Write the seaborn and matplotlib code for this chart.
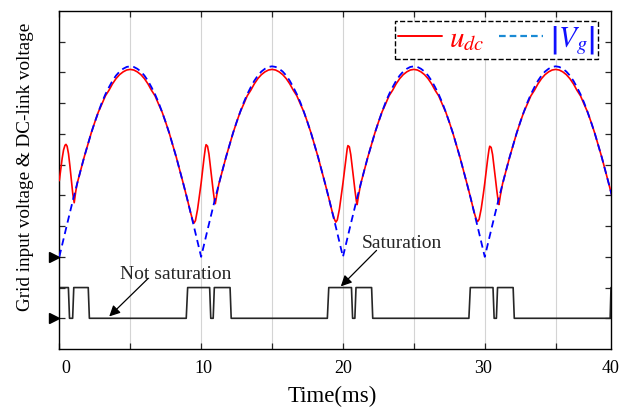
import numpy as np
import pandas as pd
import matplotlib
matplotlib.use("Agg")
import matplotlib.pyplot as plt
import matplotlib.transforms as mtransforms
from matplotlib.lines import Line2D
import seaborn as sns

# ---------------- data ----------------
# |V_g| sampled every 0.25 ms (ms, arbitrary voltage units)
t_vg = np.arange(0.0, 40.0, 0.25)
vg_abs = [
    2.00, 2.49, 2.97, 3.45, 3.92, 4.37, 4.81, 5.24, 5.64, 6.03, 6.38, 6.71, 7.02, 7.29, 7.52, 7.73, 7.90, 8.03, 8.12, 8.18,
    8.20, 8.18, 8.12, 8.03, 7.90, 7.73, 7.52, 7.29, 7.02, 6.71, 6.38, 6.03, 5.64, 5.24, 4.81, 4.37, 3.92, 3.45, 2.97, 2.49,
    2.00, 2.49, 2.97, 3.45, 3.92, 4.37, 4.81, 5.24, 5.64, 6.03, 6.38, 6.71, 7.02, 7.29, 7.52, 7.73, 7.90, 8.03, 8.12, 8.18,
    8.20, 8.18, 8.12, 8.03, 7.90, 7.73, 7.52, 7.29, 7.02, 6.71, 6.38, 6.03, 5.64, 5.24, 4.81, 4.37, 3.92, 3.45, 2.97, 2.49,
    2.00, 2.49, 2.97, 3.45, 3.92, 4.37, 4.81, 5.24, 5.64, 6.03, 6.38, 6.71, 7.02, 7.29, 7.52, 7.73, 7.90, 8.03, 8.12, 8.18,
    8.20, 8.18, 8.12, 8.03, 7.90, 7.73, 7.52, 7.29, 7.02, 6.71, 6.38, 6.03, 5.64, 5.24, 4.81, 4.37, 3.92, 3.45, 2.97, 2.49,
    2.00, 2.49, 2.97, 3.45, 3.92, 4.37, 4.81, 5.24, 5.64, 6.03, 6.38, 6.71, 7.02, 7.29, 7.52, 7.73, 7.90, 8.03, 8.12, 8.18,
    8.20, 8.18, 8.12, 8.03, 7.90, 7.73, 7.52, 7.29, 7.02, 6.71, 6.38, 6.03, 5.64, 5.24, 4.81, 4.37, 3.92, 3.45, 2.97, 2.49,
]

# u_dc
t_udc = [
    0.0, 0.1, 0.2, 0.3, 0.4, 0.47, 0.55, 0.65, 0.75, 0.85, 0.95, 1.05, 1.15, 1.25,
    1.5, 1.75, 2.0, 2.25, 2.5, 2.75, 3.0, 3.25, 3.5, 3.75, 4.0, 4.25, 4.5, 4.75, 5.0, 5.25,
    5.5, 5.75, 6.0, 6.25, 6.5, 6.75, 7.0, 7.25, 7.5, 7.75, 8.0, 8.25, 8.5, 8.75, 9.0,
    9.25, 9.4, 9.5, 9.6, 9.75, 9.9,
    10.0, 10.1, 10.2, 10.3, 10.35, 10.45, 10.55, 10.65, 10.75, 10.85, 10.95, 11.0, 11.1, 11.25,
    11.5, 11.75, 12.0, 12.25, 12.5, 12.75, 13.0, 13.25, 13.5, 13.75, 14.0, 14.25, 14.5, 14.75, 15.0, 15.25,
    15.5, 15.75, 16.0, 16.25, 16.5, 16.75, 17.0, 17.25, 17.5, 17.75, 18.0, 18.25, 18.5, 18.75, 19.0,
    19.25, 19.4, 19.5, 19.6, 19.75, 19.9,
    20.0, 20.1, 20.2, 20.3, 20.35, 20.45, 20.55, 20.65, 20.75, 20.85, 20.95, 21.0, 21.1, 21.25,
    21.5, 21.75, 22.0, 22.25, 22.5, 22.75, 23.0, 23.25, 23.5, 23.75, 24.0, 24.25, 24.5, 24.75, 25.0, 25.25,
    25.5, 25.75, 26.0, 26.25, 26.5, 26.75, 27.0, 27.25, 27.5, 27.75, 28.0, 28.25, 28.5, 28.75, 29.0,
    29.25, 29.4, 29.5, 29.6, 29.75, 29.9,
    30.0, 30.1, 30.2, 30.3, 30.35, 30.45, 30.55, 30.65, 30.75, 30.85, 30.95, 31.0, 31.1, 31.25,
    31.5, 31.75, 32.0, 32.25, 32.5, 32.75, 33.0, 33.25, 33.5, 33.75, 34.0, 34.25, 34.5, 34.75, 35.0, 35.25,
    35.5, 35.75, 36.0, 36.25, 36.5, 36.75, 37.0, 37.25, 37.5, 37.75, 38.0, 38.25, 38.5, 38.75, 39.0,
]
u_dc = [
    4.48, 4.85, 5.20, 5.48, 5.63, 5.66, 5.60, 5.35, 4.95, 4.50, 4.05, 3.76, 4.10, 4.37,
    4.81, 5.24, 5.64, 6.03, 6.38, 6.71, 6.97, 7.24, 7.42, 7.63, 7.80, 7.93, 8.02, 8.08, 8.10, 8.08,
    8.02, 7.93, 7.80, 7.63, 7.42, 7.24, 6.97, 6.71, 6.38, 6.03, 5.64, 5.24, 4.81, 4.37, 3.92,
    3.45, 3.20, 3.10, 3.18, 3.55, 4.05,
    4.40, 4.80, 5.20, 5.55, 5.65, 5.60, 5.35, 4.95, 4.55, 4.15, 3.80, 3.73, 4.00, 4.37,
    4.81, 5.24, 5.64, 6.03, 6.38, 6.71, 6.97, 7.24, 7.42, 7.63, 7.80, 7.93, 8.02, 8.08, 8.10, 8.08,
    8.02, 7.93, 7.80, 7.63, 7.42, 7.24, 6.97, 6.71, 6.38, 6.03, 5.64, 5.24, 4.81, 4.37, 3.92,
    3.45, 3.22, 3.13, 3.20, 3.55, 4.05,
    4.40, 4.78, 5.17, 5.52, 5.62, 5.58, 5.33, 4.95, 4.55, 4.15, 3.80, 3.70, 4.00, 4.37,
    4.81, 5.24, 5.64, 6.03, 6.38, 6.71, 6.97, 7.24, 7.42, 7.63, 7.80, 7.93, 8.02, 8.08, 8.10, 8.08,
    8.02, 7.93, 7.80, 7.63, 7.42, 7.24, 6.97, 6.71, 6.38, 6.03, 5.64, 5.24, 4.81, 4.37, 3.92,
    3.45, 3.22, 3.15, 3.22, 3.57, 4.05,
    4.40, 4.78, 5.17, 5.50, 5.60, 5.56, 5.33, 4.95, 4.55, 4.15, 3.80, 3.70, 4.00, 4.37,
    4.81, 5.24, 5.64, 6.03, 6.38, 6.71, 6.97, 7.24, 7.42, 7.63, 7.80, 7.93, 8.02, 8.08, 8.10, 8.08,
    8.02, 7.93, 7.80, 7.63, 7.42, 7.24, 6.97, 6.71, 6.38, 6.03, 5.64, 5.24, 4.81, 4.37, 3.92,
]

# saturation flag (0 = not saturated, 1 = saturated)
t_sat = [0.0, 0.64, 0.72, 0.94, 1.02, 2.04, 2.12,
         8.95, 9.05, 10.60, 10.68, 10.85, 10.93, 12.04, 12.12,
         18.90, 19.00, 20.60, 20.68, 20.84, 20.92, 22.02, 22.10,
         28.88, 28.98, 30.58, 30.66, 30.82, 30.90, 32.00, 32.08,
         38.84, 38.90]
sat = [1, 1, 0, 0, 1, 1, 0,
       0, 1, 1, 0, 0, 1, 1, 0,
       0, 1, 1, 0, 0, 1, 1, 0,
       0, 1, 1, 0, 0, 1, 1, 0,
       0, 1]

x_tick_labels = ["0", "10", "20", "30", "40"]
x_label_pos = [0.47, 10.15, 20.0, 29.85, 38.9]
marker_levels = [0, 2]

# ---------------- styling ----------------
sns.set_theme(style="ticks")
plt.rcParams["font.family"] = ["Liberation Serif", "DejaVu Serif"]
plt.rcParams["mathtext.fontset"] = "stix"

fig = plt.figure(figsize=(6.35, 4.10), dpi=100)
ax = fig.add_axes([0.0934, 0.1463, 0.8688, 0.8244])

df_vg = pd.DataFrame({"t": t_vg, "v": vg_abs})
df_u = pd.DataFrame({"t": t_udc, "v": u_dc})
df_s = pd.DataFrame({"t": t_sat, "v": sat})

sns.lineplot(data=df_s, x="t", y="v", ax=ax, color="#262626", lw=1.2,
             estimator=None, sort=False, legend=False)
sns.lineplot(data=df_u, x="t", y="v", ax=ax, color="#ff0000", lw=1.2,
             estimator=None, sort=False, legend=False, zorder=3)
sns.lineplot(data=df_vg, x="t", y="v", ax=ax, color="#0000ff", lw=1.3,
             estimator=None, sort=False, legend=False, zorder=4,
             dashes=False)
ax.lines[-1].set_dashes([4, 2.5])

ax.set_xlim(0, 38.9)
ax.set_ylim(-1, 10)

# ticks
ax.xaxis.remove_overlapping_locs = False
ax.set_xticks(np.arange(0, 40, 5))
ax.set_xticklabels([])
ax.set_xticks(x_label_pos, minor=True)
ax.set_xticklabels(x_tick_labels, minor=True)
ax.set_yticks(np.arange(0, 10, 1))
ax.set_yticklabels([])
ax.tick_params(axis="x", which="major", direction="in", length=4, width=0.9,
               top=True, bottom=True, labelbottom=False)
ax.tick_params(axis="x", which="minor", length=0, labelsize=13, pad=7,
               top=False, bottom=True, colors="black")
ax.tick_params(axis="y", which="major", direction="in", length=4, width=0.9,
               left=True, right=True, labelleft=False)
for s in ax.spines.values():
    s.set_color("black")
    s.set_linewidth(1.0)

ax.grid(axis="x", which="major", color="#d4d4d4", lw=0.8)
ax.set_axisbelow(True)

ax.set_xlabel("Time(ms)", fontsize=16.5, color="black")
ax.xaxis.set_label_coords(0.495, -0.105)
ax.set_ylabel("Grid input voltage & DC-link voltage", fontsize=13.8, color="black")
ax.yaxis.set_label_coords(-0.046, 0.541)

# level markers on the left
trans = mtransforms.blended_transform_factory(ax.transAxes, ax.transData)
ax.plot([-0.0105] * len(marker_levels), marker_levels, ls="none", marker=">",
        ms=7, color="black", transform=trans, clip_on=False)

# annotations
ax.text(8.21, 1.46, "Not saturation", fontsize=14, ha="center", va="center")
ax.annotate("", xy=(3.52, 0.06), xytext=(6.27, 1.30),
            arrowprops=dict(arrowstyle="-|>", color="black", lw=0.9,
                            mutation_scale=16, shrinkA=0, shrinkB=0))
ax.text(24.13, 2.46, "Saturation", fontsize=14, ha="center", va="center")
ax.annotate("", xy=(19.85, 1.04), xytext=(22.37, 2.21),
            arrowprops=dict(arrowstyle="-|>", color="black", lw=0.9,
                            mutation_scale=16, shrinkA=0, shrinkB=0))

# legend
h_u = Line2D([], [], color="#ff0000", lw=1.4)
h_v = Line2D([], [], color="#1a8ad4", lw=1.6, dashes=[3, 1.8])
leg = ax.legend([h_u, h_v], [r"$u_{dc}$", r"$\left|V_g\right|$"], ncol=2,
                loc="upper right", bbox_to_anchor=(0.9764, 0.9713),
                borderaxespad=0, fontsize=21, frameon=True, fancybox=False,
                framealpha=1, edgecolor="black", handlelength=1.5,
                handletextpad=0.25, columnspacing=0.5, borderpad=0.1)
leg.get_frame().set_linestyle("--")
leg.get_frame().set_linewidth(1.0)
leg.get_texts()[0].set_color("#ff0000")
leg.get_texts()[1].set_color("#1010ff")

fig.savefig("out.png", dpi=100)
